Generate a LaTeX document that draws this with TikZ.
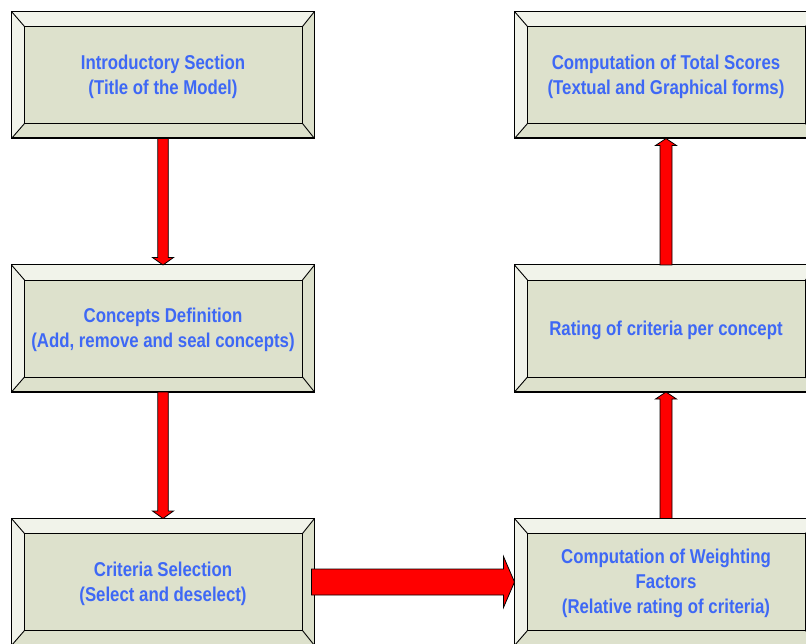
\documentclass[tikz,border=0pt]{standalone}
\usepackage{fontspec}
\newfontfamily\boxfont{Liberation Sans}[FakeStretch=0.84]
\usetikzlibrary{calc}
\definecolor{bevlight}{RGB}{241,243,234}
\definecolor{bevdark}{RGB}{221,225,204}
\definecolor{txtblue}{RGB}{62,104,245}
\definecolor{arrred}{RGB}{255,0,0}
\tikzset{
  bbox/.style={draw=black, line width=1pt, fill=bevdark, minimum width=302pt,
    minimum height=126pt, inner sep=0pt, align=center, text=txtblue,
    font=\boxfont\bfseries\fontsize{20}{25}\selectfont},
  btext/.style={bbox, draw=none, fill=none, yshift=-1.5pt},
  bline/.style={draw=black, line width=0.9pt},
  fatarrow/.style={fill=arrred, draw=black, line width=0.8pt, line join=miter},
}
\newcommand{\bevelbox}[1]{%
  \fill[bevlight] (#1.north west) -- (#1.north east) -- ($(#1.north east)+(-12,15)$)
     -- ($(#1.north west)+(13,15)$) -- cycle;
  \fill[bevlight] (#1.north west) -- ($(#1.north west)+(13,15)$)
     -- ($(#1.south west)+(13,-15)$) -- (#1.south west) -- cycle;
  \draw[bline] ($(#1.north west)+(13,15)$) rectangle ($(#1.south east)+(-12,-15)$);
  \draw[bline] (#1.north west) -- ($(#1.north west)+(13,15)$);
  \draw[bline] (#1.north east) -- ($(#1.north east)+(-12,15)$);
  \draw[bline] (#1.south west) -- ($(#1.south west)+(13,-15)$);
  \draw[bline] (#1.south east) -- ($(#1.south east)+(-12,-15)$);
  \draw[draw=black, line width=1pt] (#1.north west) rectangle (#1.south east);
}
\begin{document}
\begin{tikzpicture}[x=1pt,y=-1pt]
\useasboundingbox (0,0) rectangle (806,644);
\clip (0,0) rectangle (806,644);
% boxes
\node[bbox] (intro) at (163,75) {};
\node[bbox] (conc)  at (163,328.5) {};
\node[bbox] (crit)  at (163,582) {};
\node[bbox] (total) at (666,75) {};
\node[bbox] (rate)  at (666,328.5) {};
\node[bbox] (weight) at (666,582) {};
\bevelbox{intro}\bevelbox{conc}\bevelbox{crit}
\bevelbox{total}\bevelbox{rate}\bevelbox{weight}
\node[btext] (intro-t) at (intro) {Introductory Section\\(Title of the Model)};
\node[btext] (conc-t) at (conc) {Concepts Definition\\(Add, remove and seal concepts)};
\node[btext] (crit-t) at (crit) {Criteria Selection\\(Select and deselect)};
\node[btext] (total-t) at (total) {Computation of Total Scores\\(Textual and Graphical forms)};
\node[btext] (rate-t) at (rate) {Rating of criteria per concept};
\node[btext] (weight-t) at (weight) {Computation of Weighting\\Factors\\(Relative rating of criteria)};
% down arrows
\foreach \a/\b in {intro/conc, conc/crit}{
  \draw[fatarrow] ($(\a.south)+(-5.25,0)$) -- ($(\b.north)+(-5.25,-7.5)$)
    -- ($(\b.north)+(-10.5,-7.5)$) -- (\b.north) -- ($(\b.north)+(10.5,-7.5)$)
    -- ($(\b.north)+(5.25,-7.5)$) -- ($(\a.south)+(5.25,0)$) -- cycle;
}
% up arrows
\foreach \a/\b in {weight/rate, rate/total}{
  \draw[fatarrow] ($(\a.north)+(-6,0)$) -- ($(\b.south)+(-6,7)$)
    -- ($(\b.south)+(-10.5,7)$) -- (\b.south) -- ($(\b.south)+(10.5,7)$)
    -- ($(\b.south)+(6,7)$) -- ($(\a.north)+(6,0)$) -- cycle;
}
% horizontal arrow
\draw[fatarrow] ($(crit.east)+(-3,-13)$) -- ($(weight.west)+(-11,-13)$)
  -- ($(weight.west)+(-11,-25.5)$) -- (weight.west) -- ($(weight.west)+(-11,25.5)$)
  -- ($(weight.west)+(-11,13)$) -- ($(crit.east)+(-3,13)$) -- cycle;
\end{tikzpicture}
\end{document}
